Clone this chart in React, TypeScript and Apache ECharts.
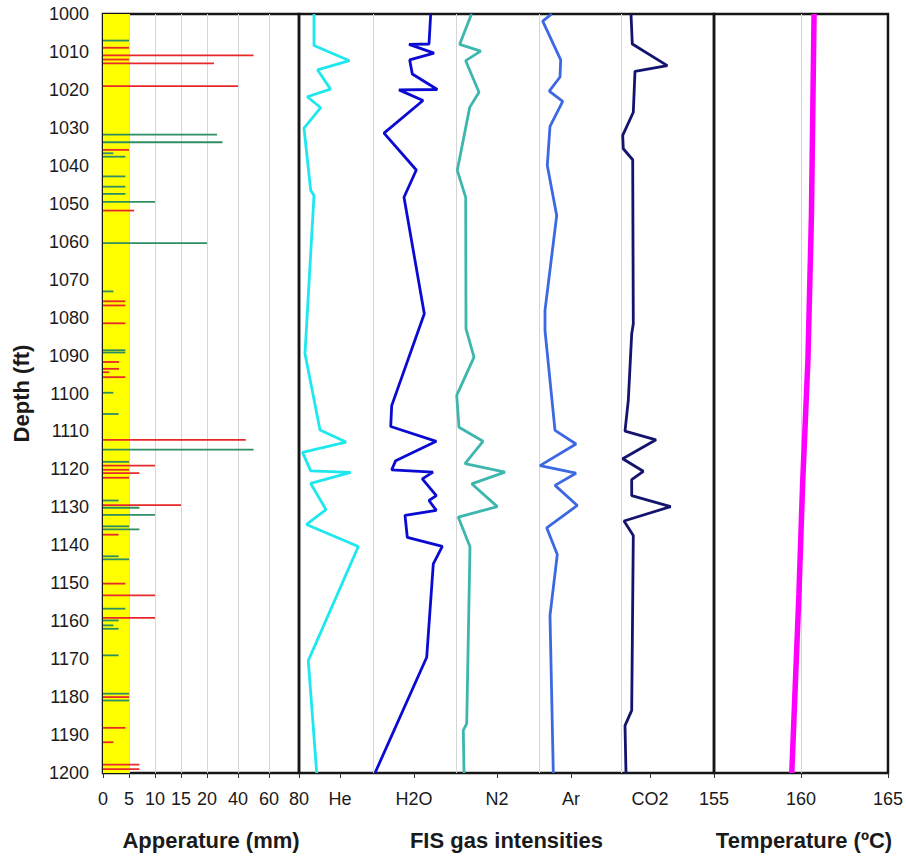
import React, { useEffect, useRef } from "react";
import * as echarts from "echarts";

// ---------- data ----------
const DEPTH_MIN = 1000;
const DEPTH_MAX = 1200;
const DEPTH_STEP = 10;

// aperture axis is piecewise (0-20 by 5, then 20-80 by 20)
const APERTURE_TICKS = [0, 5, 10, 15, 20, 40, 60, 80];
const YELLOW_BAND_MM = 5;

// [depth ft, aperture mm]
const RED_BARS: [number, number][] = [
  [1008.9, 5], [1010.9, 50], [1012.0, 5], [1013.0, 24.5], [1019.0, 40],
  [1035.8, 5], [1051.8, 6], [1075.7, 4.3], [1076.8, 4.3], [1081.5, 4.3],
  [1091.7, 3.1], [1093.5, 3.1], [1094.4, 1.2], [1095.7, 4.3], [1112.2, 45],
  [1119.0, 10], [1120.1, 5], [1121.0, 7], [1122.2, 5], [1129.4, 15],
  [1137.2, 3], [1150.1, 4.3], [1153.2, 10], [1159.1, 10], [1180.0, 5],
  [1188.1, 4.3], [1191.9, 2], [1197.8, 7], [1199.0, 7],
];
const GREEN_BARS: [number, number][] = [
  [1007.0, 5], [1031.8, 26.5], [1033.8, 30], [1036.7, 2], [1037.6, 4.3],
  [1042.8, 4.3], [1045.5, 4.3], [1047.4, 4.3], [1049.5, 10], [1060.4, 20],
  [1073.1, 2], [1088.6, 4.3], [1089.2, 4.3], [1099.8, 2], [1105.4, 3],
  [1114.8, 50], [1118.0, 5], [1128.2, 3], [1130.1, 7], [1132.0, 10],
  [1135.0, 5], [1135.8, 7], [1142.9, 3], [1143.7, 5], [1156.7, 4.3],
  [1159.8, 3], [1161.1, 2], [1162.0, 3], [1169.0, 3], [1179.1, 5], [1180.9, 5],
];

const GAS_NAMES = ["He", "H2O", "N2", "Ar", "CO2"];
// relative intensity scale (full width of each gas column)
const GAS_SCALE_MAX = [74, 83, 83, 82, 93];

// [depth ft, relative intensity]
const HE: [number, number][] = [
  [1000, 15], [1008.3, 15], [1012.3, 50.5], [1014.7, 18.5], [1019.8, 31.5],
  [1021.8, 8.3], [1024.7, 21.7], [1030.1, 5], [1046.5, 11.7], [1047.8, 15],
  [1089.5, 6], [1109.6, 21], [1112.8, 47], [1115.5, 3.5], [1120.4, 11.7],
  [1120.8, 51.7], [1123.7, 11.7], [1130.6, 27], [1134.5, 7.5], [1140.3, 59.3],
  [1170.4, 9.3], [1200, 17.7],
];
const H2O: [number, number][] = [
  [1000, 57.7], [1007.9, 56], [1008.0, 36], [1010.3, 61], [1012.1, 36.7],
  [1015.8, 39.3], [1019.9, 64.3], [1020.0, 26], [1022.8, 50], [1031.4, 11],
  [1041.1, 43.3], [1048.3, 31], [1079.0, 51.3], [1103.2, 18.7], [1108.7, 17.7],
  [1112.6, 63.3], [1117.7, 22.7], [1120.1, 18.7], [1120.7, 60], [1122.5, 49.3],
  [1126.9, 63.3], [1128.2, 56], [1130.8, 63.3], [1132.1, 32], [1137.9, 34.3],
  [1140.3, 69.3], [1144.9, 60.3], [1169.5, 53.7], [1200, 2],
];
const N2: [number, number][] = [
  [1000, 15.5], [1008.0, 3.7], [1009.8, 24.7], [1012.3, 9.7], [1020.6, 23],
  [1024.6, 13.7], [1041.2, 1.3], [1048.3, 9.7], [1083.0, 10], [1090.4, 18],
  [1100.5, 0.7], [1108.9, 3], [1112.6, 27], [1118.5, 9], [1120.7, 49],
  [1123.8, 15.7], [1129.8, 41.3], [1132.6, 2.3], [1140.4, 14], [1187.0, 10.7],
  [1188.8, 7.3], [1200, 8],
];
const AR: [number, number][] = [
  [1000, 12.7], [1001.9, 3.7], [1012.1, 21.7], [1016.6, 21], [1020.3, 10.3],
  [1023.0, 23.7], [1029.6, 11], [1039.9, 8.3], [1053.1, 17.7], [1078.1, 6],
  [1083.4, 6], [1109.7, 16], [1113.3, 37], [1119.0, 1], [1121.0, 37],
  [1124.2, 16], [1129.5, 38.3], [1135.4, 7.7], [1142.4, 18.3], [1158.5, 11],
  [1200, 14.3],
];
const CO2: [number, number][] = [
  [1000, 10], [1007.9, 11.3], [1013.6, 46.3], [1015.1, 14], [1025.9, 12.3],
  [1032.0, 1.7], [1035.5, 2.3], [1038.4, 11.7], [1081.6, 12.3], [1084.3, 10.7],
  [1101.8, 7.3], [1109.9, 4], [1112.2, 35], [1117.2, 1.7], [1120.5, 22.3],
  [1122.7, 10.7], [1126.9, 10.7], [1129.8, 49.7], [1133.6, 3], [1137.4, 12.3],
  [1183.5, 10.7], [1187.5, 4], [1200, 5],
];
const GAS_DATA = [HE, H2O, N2, AR, CO2];

// [depth ft, temperature °C]
const TEMPERATURE: [number, number][] = [
  [1000, 160.75], [1053, 160.6], [1091, 160.4], [1123, 160.1], [1153, 159.88], [1200, 159.47],
];
const TEMP_MIN = 155;
const TEMP_MAX = 165;
const TEMP_STEP = 5;

// ---------- layout / style ----------
const FONT = "'Liberation Sans', Arial, sans-serif";
const TXT = "#1a1a1a";
const GRIDLINE = "#d6d6d6";
const FRAME = "#161616";
const PLOT_TOP = 14;
const PLOT_H = 759;
// display position of each aperture tick inside the aperture panel (scale breaks)
const APERTURE_POS = [0, 26, 52, 78, 104, 135, 166, 196];
const GAS_COLORS = ["#1EE8EE", "#0A0AD2", "#3DB7AE", "#3D68E4", "#14146E"];
const GAS_LEFT = [299, 373, 456, 539, 621];
const FIS_WIDTH = 415;
const FIS_LABEL_POS = [41, 115, 198, 272, 351];

function aperturePos(v: number): number {
  for (let i = 0; i < APERTURE_TICKS.length - 1; i++) {
    const a = APERTURE_TICKS[i], b = APERTURE_TICKS[i + 1];
    if (v <= b || i === APERTURE_TICKS.length - 2) {
      return APERTURE_POS[i] + ((v - a) / (b - a)) * (APERTURE_POS[i + 1] - APERTURE_POS[i]);
    }
  }
  return 0;
}

export default function App() {
  const ref = useRef<HTMLDivElement>(null);
  useEffect(() => {
    document.body.style.margin = "0";
    if (!ref.current) return;
    const chart = echarts.init(ref.current, undefined, { renderer: "svg" });

    const frameGrid = (left: number, width: number) => ({
      left, width, top: PLOT_TOP, height: PLOT_H, show: true,
      borderColor: FRAME, borderWidth: 2.5, backgroundColor: "transparent",
    });
    const grids: any[] = [
      frameGrid(103, 196),
      frameGrid(299, FIS_WIDTH),
      frameGrid(714, 178),
      ...GAS_LEFT.map((l, k) => ({ left: l, width: GAS_SCALE_MAX[k], top: PLOT_TOP, height: PLOT_H, show: false })),
    ];

    const yAxes = grids.map((_, i) => ({
      type: "value", gridIndex: i, min: DEPTH_MIN, max: DEPTH_MAX, interval: DEPTH_STEP, inverse: true,
      show: i === 0,
      axisLine: { show: false }, axisTick: { show: false }, splitLine: { show: false },
      axisLabel: { fontSize: 18, margin: 14, color: TXT, fontFamily: FONT, formatter: (v: number) => String(v) },
      name: i === 0 ? "Depth (ft)" : "",
      nameLocation: "middle", nameGap: 71, nameRotate: 90,
      nameTextStyle: { fontSize: 22, fontWeight: "bold", color: TXT, fontFamily: FONT },
    }));

    const labelStyle = { fontSize: 18, margin: 17, color: TXT, fontFamily: FONT, showMinLabel: true, showMaxLabel: true };
    const nameStyle = { fontSize: 22, fontWeight: "bold", color: TXT, fontFamily: FONT };
    const tickStyle = { show: true, length: 5, lineStyle: { color: "#333", width: 1 } };

    const xAxes: any[] = [
      {
        type: "value", gridIndex: 0, min: 0, max: APERTURE_POS[APERTURE_POS.length - 1],
        axisLine: { show: false },
        axisTick: { ...tickStyle, customValues: APERTURE_POS },
        axisLabel: {
          ...labelStyle, customValues: APERTURE_POS,
          formatter: (v: number) => {
            const i = APERTURE_POS.findIndex((p) => Math.abs(p - v) < 0.01);
            return i >= 0 ? String(APERTURE_TICKS[i]) : "";
          },
        },
        splitLine: { show: true, showMinLine: false, showMaxLine: false, lineStyle: { color: GRIDLINE, width: 1 } },
        name: "Apperature (mm)", nameLocation: "middle", nameGap: 56,
        nameTextStyle: { ...nameStyle, padding: [0, 0, 0, 20] },
      },
      {
        type: "value", gridIndex: 1, min: 0, max: FIS_WIDTH,
        axisLine: { show: false },
        axisTick: { ...tickStyle, customValues: FIS_LABEL_POS },
        axisLabel: {
          ...labelStyle, customValues: FIS_LABEL_POS,
          formatter: (v: number) => {
            const i = FIS_LABEL_POS.findIndex((p) => Math.abs(p - v) < 0.01);
            return i >= 0 ? GAS_NAMES[i] : "";
          },
        },
        splitLine: { show: false },
        name: "FIS gas intensities", nameLocation: "middle", nameGap: 56,
        nameTextStyle: nameStyle,
      },
      {
        type: "value", gridIndex: 2, min: TEMP_MIN, max: TEMP_MAX, interval: TEMP_STEP,
        axisLine: { show: false },
        axisTick: tickStyle,
        axisLabel: labelStyle,
        splitLine: { show: true, showMinLine: false, showMaxLine: false, lineStyle: { color: GRIDLINE, width: 1 } },
        name: "Temperature (ºC)", nameLocation: "middle", nameGap: 56,
        nameTextStyle: { ...nameStyle, padding: [0, 0, 0, 6] },
      },
      ...GAS_SCALE_MAX.map((m, k) => ({
        type: "value", gridIndex: 3 + k, min: 0, max: m, interval: m,
        axisLine: { show: false }, axisTick: { show: false }, axisLabel: { show: false },
        splitLine: { show: true, showMinLine: false, showMaxLine: k < GAS_SCALE_MAX.length - 1, lineStyle: { color: GRIDLINE, width: 1 } },
      })),
    ];

    const barSeries = (data: [number, number][], color: string) => ({
      type: "custom", xAxisIndex: 0, yAxisIndex: 0, z: 3, silent: true,
      encode: { x: 0, y: 1 },
      data: data.map(([d, mm]) => [aperturePos(mm), d]),
      renderItem: (_p: any, api: any) => {
        const d = api.value(1);
        const a = api.coord([0, d]);
        const b = api.coord([api.value(0), d]);
        return { type: "line", shape: { x1: a[0], y1: a[1], x2: b[0], y2: b[1] }, style: { stroke: color, lineWidth: 1.8 } };
      },
    });

    const series: any[] = [
      {
        type: "custom", xAxisIndex: 0, yAxisIndex: 0, z: 1, silent: true,
        encode: { x: [0, 1], y: [2, 3] },
        data: [[aperturePos(0), aperturePos(YELLOW_BAND_MM), DEPTH_MIN, DEPTH_MAX]],
        renderItem: (_p: any, api: any) => {
          const a = api.coord([api.value(0), api.value(2)]);
          const b = api.coord([api.value(1), api.value(3)]);
          return { type: "rect", shape: { x: a[0], y: a[1], width: b[0] - a[0], height: b[1] - a[1] }, style: { fill: "#FFFF00" } };
        },
      },
      barSeries(RED_BARS, "#E8282A"),
      barSeries(GREEN_BARS, "#2E8E62"),
      ...GAS_DATA.map((arr, k) => ({
        type: "line", name: GAS_NAMES[k], xAxisIndex: 3 + k, yAxisIndex: 3 + k, z: 4,
        data: arr.map(([d, v]) => [v, d]),
        showSymbol: false, symbol: "none", clip: false,
        lineStyle: { color: GAS_COLORS[k], width: 2.8 },
      })),
      {
        type: "line", name: "Temperature", xAxisIndex: 2, yAxisIndex: 2, z: 4,
        data: TEMPERATURE.map(([d, t]) => [t, d]),
        showSymbol: false, symbol: "none",
        lineStyle: { color: "#FF00FF", width: 5.5 },
      },
    ];

    chart.setOption({
      animation: false,
      backgroundColor: "#ffffff",
      textStyle: { fontFamily: FONT },
      grid: grids,
      xAxis: xAxes,
      yAxis: yAxes,
      series,
    });
    return () => chart.dispose();
  }, []);
  return <div ref={ref} style={{ width: 906, height: 858, overflow: "hidden" }} />;
}
